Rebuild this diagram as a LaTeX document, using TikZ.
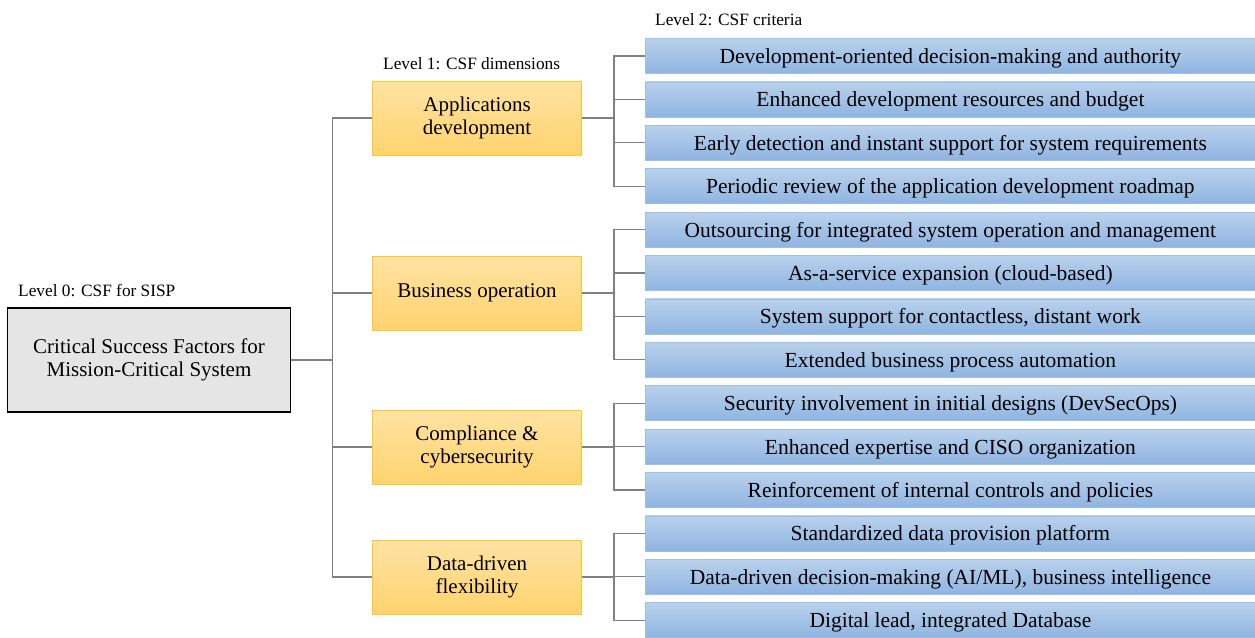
\documentclass[tikz,border=0pt]{standalone}
\usepackage{fontspec}
\setmainfont{Liberation Serif}
\definecolor{dimtop}{HTML}{FFE3A3}
\definecolor{dimbot}{HTML}{FFD36E}
\definecolor{dimedge}{HTML}{FFC72C}
\definecolor{crittop}{HTML}{B9D1EC}
\definecolor{critbot}{HTML}{8FB4E1}
\definecolor{critedge}{HTML}{9CC0E8}
\definecolor{linkgray}{HTML}{808080}
\tikzset{
  rootbox/.style={draw=black, line width=1.6pt, fill=black!10, minimum width=283pt,
    minimum height=104pt, align=center, font=\fontsize{21}{23.5}\selectfont},
  dimbox/.style={draw=dimedge, line width=0.8pt, top color=dimtop, bottom color=dimbot,
    minimum width=209pt, minimum height=74pt, align=center, font=\fontsize{21}{23.5}\selectfont},
  critbox/.style={draw=critedge, line width=0.8pt, top color=crittop, bottom color=critbot,
    minimum width=610pt, minimum height=35pt, anchor=west, text height=15pt, text depth=0pt,
    font=\fontsize{21.5}{22}\selectfont},
  lvl/.style={anchor=base west, inner sep=0pt, font=\fontsize{17.3}{18}\selectfont},
  link/.style={draw=linkgray, line width=1.2pt}
}
\begin{document}
\begin{tikzpicture}[x=1pt,y=-1pt]
  \useasboundingbox (0,0) rectangle (1255,637);
  % level labels
  \node[lvl] (lab0) at (18,296) {Level 0: CSF for SISP};
  \node[lvl] (lab1) at (383,69) {Level 1: CSF dimensions};
  \node[lvl] (lab2) at (655,25) {Level 2: CSF criteria};
  % level 0
  \node[rootbox] (root) at (149,360) {Critical Success Factors for\\Mission-Critical System};
  % level 1
  \node[dimbox] (d1) at (477,118) {Applications\\development};
  \node[dimbox] (d2) at (477,293) {Business operation};
  \node[dimbox] (d3) at (477,447) {Compliance \&\\cybersecurity};
  \node[dimbox] (d4) at (477,577) {Data-driven\\flexibility};
  % level 2
  \foreach \t [count=\i] in {
      Development-oriented decision-making and authority,
      Enhanced development resources and budget,
      Early detection and instant support for system requirements,
      Periodic review of the application development roadmap,
      Outsourcing for integrated system operation and management,
      As-a-service expansion (cloud-based),
      {System support for contactless, distant work},
      Extended business process automation,
      Security involvement in initial designs (DevSecOps),
      Enhanced expertise and CISO organization,
      Reinforcement of internal controls and policies,
      Standardized data provision platform,
      {Data-driven decision-making (AI/ML), business intelligence},
      {Digital lead, integrated Database}}
    \node[critbox] (c\i) at (645,{56+(\i-1)*43.4}) {\t};
  % connectors
  \foreach \d in {1,...,4}
    \draw[link] (root.east) -- ++(41,0) |- (d\d.west);
  \foreach \d/\a/\b in {1/1/4, 2/5/8, 3/9/11, 4/12/14}
    \foreach \c in {\a,...,\b}
      \draw[link] (d\d.east) -- ++(32,0) |- (c\c.west);
\end{tikzpicture}
\end{document}
